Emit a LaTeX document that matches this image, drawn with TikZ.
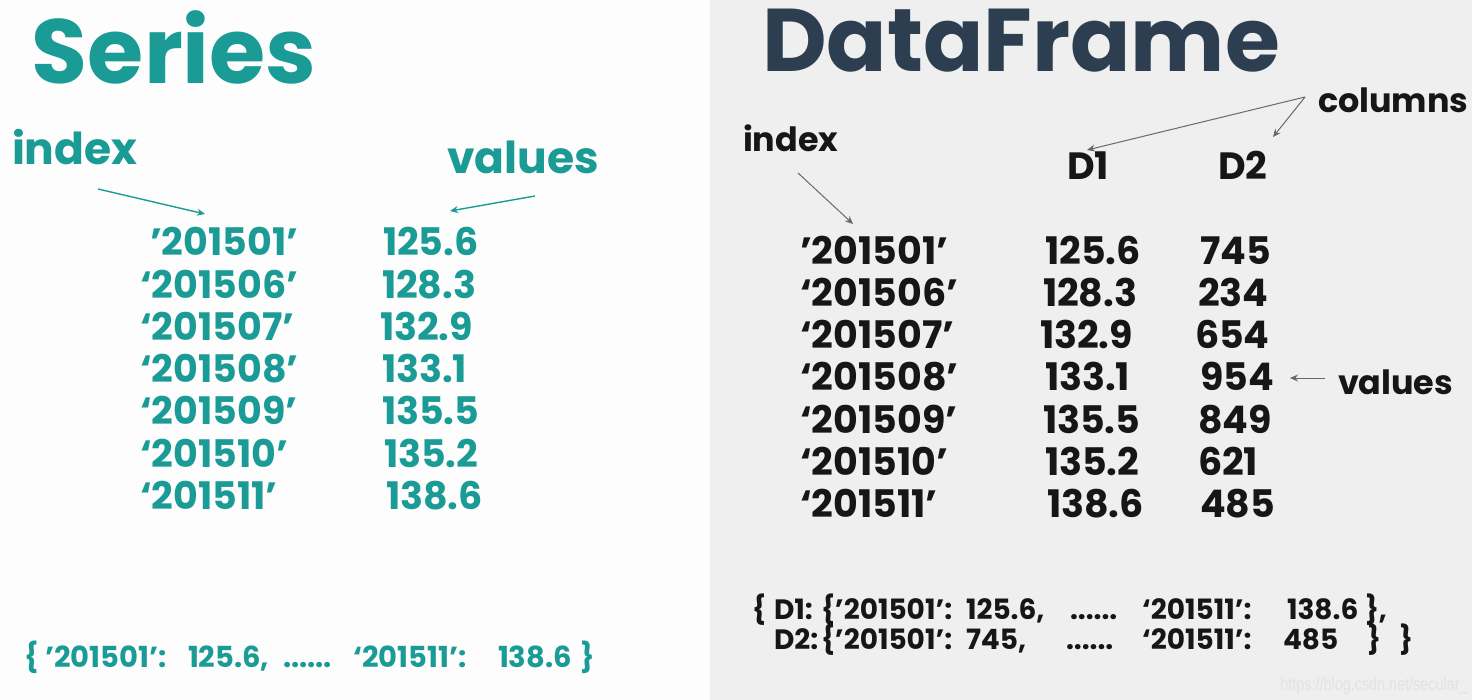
\documentclass[tikz,border=0pt]{standalone}
\usepackage{fontspec}
\setmainfont{Poppins}
\newfontfamily\wmfont{Liberation Sans}
\usetikzlibrary{arrows.meta}
\definecolor{tealc}{RGB}{27,155,150}
\definecolor{navyc}{RGB}{44,62,80}
\definecolor{blackc}{RGB}{22,22,22}
\definecolor{arrowgray}{RGB}{105,105,105}
\definecolor{leftbg}{RGB}{253,253,253}
\definecolor{rightbg}{RGB}{239,239,239}
\definecolor{wmc}{RGB}{226,226,226}
\tikzset{
  txt/.style={inner sep=0pt, outer sep=0pt, anchor=base west},
  tlabel/.style={txt, text=tealc, font=\fontsize{22pt}{26pt}\selectfont\bfseries},
  tnum/.style={txt, text=tealc, font=\fontsize{19pt}{23pt}\selectfont\bfseries},
  tsmall/.style={txt, text=tealc, font=\fontsize{14.5pt}{18pt}\selectfont\bfseries},
  klabel/.style={txt, text=blackc, font=\fontsize{16.7pt}{21pt}\selectfont\bfseries},
  knum/.style={txt, text=blackc, font=\fontsize{19pt}{23pt}\selectfont\bfseries},
  ksmall/.style={txt, text=blackc, font=\fontsize{14pt}{17pt}\selectfont\bfseries},
  tarrow/.style={draw=tealc, line width=0.7pt, -{Stealth[length=4pt,width=3.5pt]}},
  garrow/.style={draw=arrowgray, line width=0.5pt, -{Stealth[length=4pt,width=3.5pt]}},
}
\begin{document}
\begin{tikzpicture}[x=0.5pt,y=-0.5pt]
\useasboundingbox (0,0) rectangle (1472,700);
\fill[leftbg] (0,0) rectangle (710,700);
\fill[rightbg] (710,0) rectangle (1472,700);

% ---------- Series ----------
\node[txt, text=tealc, font=\fontsize{45.5pt}{50pt}\selectfont\bfseries] (stitle) at (32,84) {Series};
\node[tlabel] (lindex) at (12,165) {index};
\node[tlabel] (lvalues) at (447,174) {values};

\foreach \i/\idx/\val/\xi/\xv in {1/’201501’/125.6/150/383, 2/‘201506’/128.3/140/382, 3/‘201507’/132.9/140/380, 4/‘201508’/133.1/140/382, 5/‘201509’/135.5/140/382, 6/‘201510’/135.2/140/384, 7/‘201511’/138.6/140/386}{
  \node[tnum] (li\i) at (\xi,{256+42.2*(\i-1)}) {\idx};
  \node[tnum] (lv\i) at (\xv,{256+42.2*(\i-1)}) {\val};
}

\coordinate (lia) at (98,189);
\coordinate (lib) at (205,214);
\draw[tarrow] (lia) -- (lib);
\coordinate (lva) at (535,196);
\coordinate (lvb) at (450,211);
\draw[tarrow] (lva) -- (lvb);

\node[tsmall] (lb1) at (25,667) {\{};
\node[tsmall] (lb2) at (45,667) {’201501’:};
\node[tsmall] (lb3) at (188,667) {125.6,};
\node[tsmall] (lb4) at (283,667) {......};
\node[tsmall] (lb5) at (353,667) {‘201511’:};
\node[tsmall] (lb6) at (498,667) {138.6};
\node[tsmall] (lb7) at (580,667) {\}};

% ---------- DataFrame ----------
\node[txt, text=navyc, font=\fontsize{44.5pt}{50pt}\selectfont\bfseries] (dtitle) at (762,72) {DataFrame};
\node[klabel] (rindex) at (743,152) {index};
\node[klabel] (rcolumns) at (1318,113) {columns};
\node[knum] (d1) at (1067,180) {D1};
\node[knum] (d2) at (1218,180) {D2};
\node[klabel] (rvalues) at (1338,394) {values};

\foreach \i/\idx/\va/\vb/\xa/\xb in {1/’201501’/125.6/745/1045/1200, 2/‘201506’/128.3/234/1043/1198, 3/‘201507’/132.9/654/1040/1195, 4/‘201508’/133.1/954/1045/1200, 5/‘201509’/135.5/849/1043/1198, 6/‘201510’/135.2/621/1045/1198, 7/‘201511’/138.6/485/1047/1200}{
  \node[knum] (ri\i) at (800,{264+42.3*(\i-1)}) {\idx};
  \node[knum] (ra\i) at (\xa,{264+42.3*(\i-1)}) {\va};
  \node[knum] (rb\i) at (\xb,{264+42.3*(\i-1)}) {\vb};
}

\coordinate (ria) at (798,173);
\coordinate (rib) at (853,224);
\draw[garrow] (ria) -- (rib);
\coordinate (rca) at (1305,97);
\coordinate (rc1) at (1087,150);
\coordinate (rc2) at (1273,137);
\draw[garrow] (rca) -- (rc1);
\draw[garrow] (rca) -- (rc2);
\coordinate (rva) at (1325,378);
\coordinate (rvb) at (1290,378);
\draw[garrow] (rva) -- (rvb);

\node[ksmall] (rb1a) at (752,619) {\{};
\node[ksmall] (rb1b) at (774,619) {D1:};
\node[ksmall] (rb1c) at (821,619) {\{’201501’:};
\node[ksmall] (rb1d) at (966,619) {125.6,};
\node[ksmall] (rb1e) at (1070,619) {......};
\node[ksmall] (rb1f) at (1142,619) {‘201511’:};
\node[ksmall] (rb1g) at (1287,619) {138.6};
\node[ksmall] (rb1h) at (1365,619) {\},};

\node[ksmall] (rb2b) at (774,649) {D2:};
\node[ksmall] (rb2c) at (821,649) {\{’201501’:};
\node[ksmall] (rb2d) at (966,649) {745,};
\node[ksmall] (rb2e) at (1066,649) {......};
\node[ksmall] (rb2f) at (1142,649) {‘201511’:};
\node[ksmall] (rb2g) at (1283,649) {485};
\node[ksmall] (rb2h) at (1367,649) {\}};
\node[ksmall] (rb2i) at (1399,649) {\}};

\node[inner sep=0pt, anchor=base east, xscale=0.8, text=wmc, font=\wmfont\fontsize{9pt}{11pt}\selectfont] (wm) at (1468,690) {https://blog.csdn.net/secular\_};
\end{tikzpicture}
\end{document}
